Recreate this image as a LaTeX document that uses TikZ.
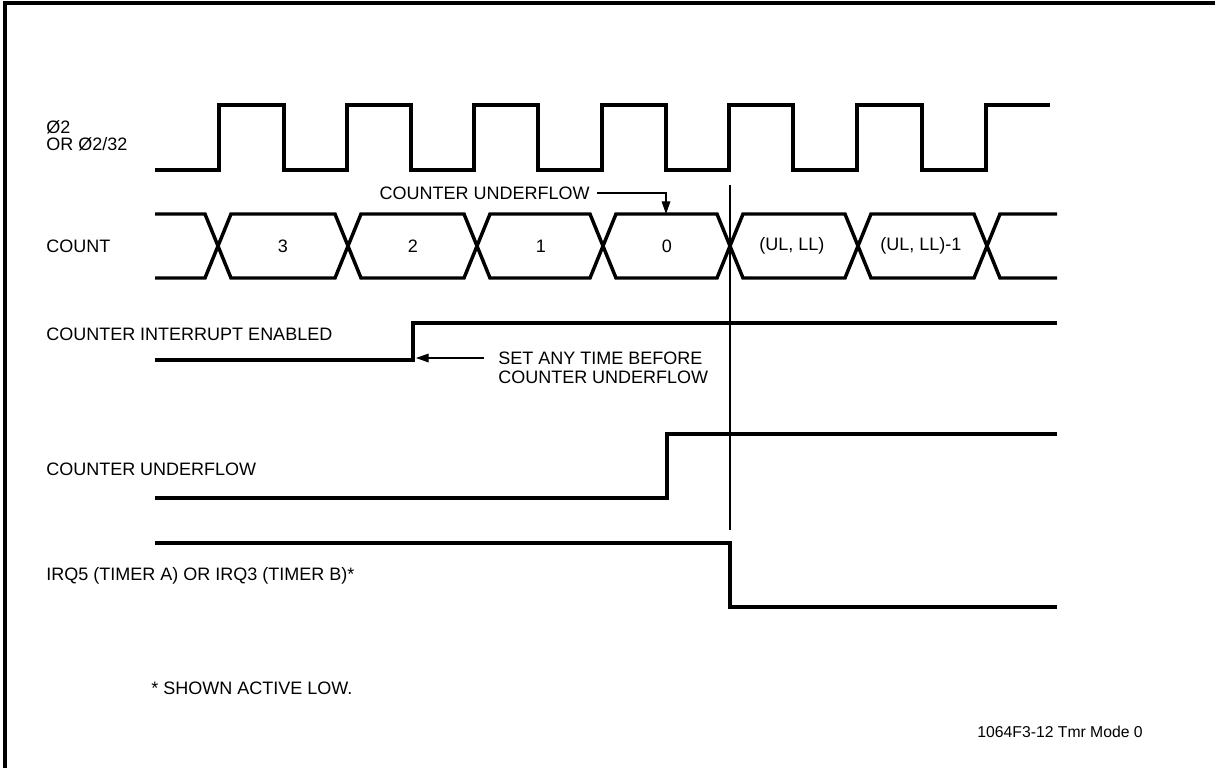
\documentclass[tikz,border=0pt]{standalone}
\usepackage{fontspec}
\setmainfont{Liberation Sans}
\usetikzlibrary{arrows.meta}
\begin{document}
\begin{tikzpicture}[x=0.75pt,y=-0.75pt,
  sig/.style={line width=2.6pt, line join=miter},
  frame/.style={line width=2.4pt},
  thinline/.style={line width=0.8pt},
  callout/.style={line width=0.9pt, -{Triangle[length=9.5pt,width=6.5pt]}},
  lbl/.style={font=\fontsize{13.5}{16}\selectfont, inner sep=0pt, anchor=west},
  val/.style={font=\fontsize{13.5}{16}\selectfont, inner sep=0pt},
  idlbl/.style={font=\fontsize{11.8}{14}\selectfont, inner sep=0pt, anchor=east}]
\useasboundingbox (0,0) rectangle (1215,768);
% frame (left and top edges)
\draw[frame] (5,768) -- (5,3) -- (1215,3);

% signal labels
\node[lbl] (lphi)  at (46,127) {Ø2};
\node[lbl] (lphi2) at (46,144) {OR Ø2/32};
\node[lbl] (lcount) at (46,246) {COUNT};
\node[lbl] (lcie) at (46,334) {COUNTER INTERRUPT ENABLED};
\node[lbl] (lcu) at (46,469) {COUNTER UNDERFLOW};
\node[lbl] (lirq) at (46,576) {IRQ5 (TIMER A) OR IRQ3 (TIMER B)*};
\node[lbl] (lnote) at (151,688) {* SHOWN ACTIVE LOW.};
\node[idlbl] (lid) at (1143,732) {1064F3-12 Tmr Mode 0};

% clock
\draw[sig] (155,170) -- (219,170) -- (219,105) -- (284,105) -- (284,170)
  -- (347,170) -- (347,105) -- (411,105) -- (411,170)
  -- (474,170) -- (474,105) -- (538,105) -- (538,170)
  -- (602,170) -- (602,105) -- (666,105) -- (666,170)
  -- (729,170) -- (729,105) -- (793,105) -- (793,170)
  -- (857,170) -- (857,105) -- (922,105) -- (922,170)
  -- (986,170) -- (986,105) -- (1050,105);

% count bus
\draw[sig] (155,214) -- (205,214) -- (231,278) -- (335,278) -- (361,214)
  -- (464,214) -- (490,278) -- (590,278) -- (616,214) -- (717,214)
  -- (743,278) -- (845,278) -- (871,214) -- (974,214) -- (1000,278) -- (1057,278);
\draw[sig] (155,278) -- (205,278) -- (231,214) -- (335,214) -- (361,278)
  -- (464,278) -- (490,214) -- (590,214) -- (616,278) -- (717,278)
  -- (743,214) -- (845,214) -- (871,278) -- (974,278) -- (1000,214) -- (1057,214);
\node[val] (v3) at (283,246) {3};
\node[val] (v2) at (413,246) {2};
\node[val] (v1) at (541,246) {1};
\node[val] (v0) at (667,246) {0};
\node[val] (vul) at (792,246) {(UL, LL)};
\node[val] (vul1) at (921,246) {(UL, LL)-1};

% counter underflow callout
\node[lbl, anchor=east] (tcu) at (590,193) {COUNTER UNDERFLOW};
\coordinate (cuA) at (597,193);
\coordinate (cuB) at (666,193);
\coordinate (cuC) at (666,214);
\draw[callout] (cuA) -- (cuB) -- (cuC);

% reference vertical line
\coordinate (vtop) at (730,185);
\coordinate (vbot) at (730,530);
\draw[thinline] (vtop) -- (vbot);

% counter interrupt enabled
\draw[sig] (155,360) -- (413,360) -- (413,323) -- (1057,323);
\node[lbl] (tset1) at (498,358) {SET ANY TIME BEFORE};
\node[lbl] (tset2) at (498,377) {COUNTER UNDERFLOW};
\coordinate (setA) at (484,358);
\coordinate (setB) at (416,358);
\draw[callout] (setA) -- (setB);

% counter underflow
\draw[sig] (155,498) -- (667,498) -- (667,434) -- (1057,434);

% IRQ
\draw[sig] (155,543) -- (730,543) -- (730,607) -- (1057,607);
\end{tikzpicture}
\end{document}
